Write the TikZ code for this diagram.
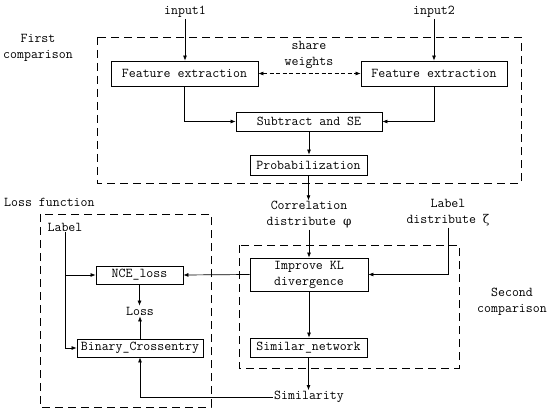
\documentclass[tikz,border=0pt]{standalone}
\usepackage{fontspec}
\newfontfamily\grk{DejaVu Serif}
\usetikzlibrary{arrows.meta}
\begin{document}
\begin{tikzpicture}[x=1pt,y=-1pt,
  every node/.style={font=\fontsize{13.5}{16}\selectfont\ttfamily},
  box/.style={draw,line width=0.8pt,inner sep=0pt,align=center},
  txt/.style={inner sep=1pt,align=center},
  arr/.style={-{Latex[length=5pt,width=4pt]},line width=0.7pt},
  group/.style={draw,line width=0.8pt,dash pattern=on 8pt off 5pt}]
\useasboundingbox (0,0) rectangle (550,412);
% groups
\draw[group] (97,37) rectangle (521,183);
\draw[group] (239,245) rectangle (459,368);
\draw[group] (40,214) rectangle (211,407);
% labels of groups
\node[txt] (firstc) at (38,48) {First\\comparison};
\node[txt] (secondc) at (512,302) {Second\\comparison};
\node[txt,anchor=west] (lossf) at (3,202) {Loss function};
% nodes
\node[txt] (in1) at (185,12) {input1};
\node[txt] (in2) at (434,12) {input2};
\node[box,minimum width=147pt,minimum height=25pt] (fe1) at (184.5,73.5) {Feature extraction};
\node[box,minimum width=146pt,minimum height=25pt] (fe2) at (434,73.5) {Feature extraction};
\node[txt] (share) at (309,55) {share\\weights};
\node[box,minimum width=146pt,minimum height=19pt] (sub) at (309,121.5) {Subtract and SE};
\node[box,minimum width=117pt,minimum height=20pt] (prob) at (308.5,165) {Probabilization};
\node[txt] (corr) at (309,215) {Correlation\\distribute {\grk\fontsize{12}{16}\selectfont φ}};
\node[txt] (ld) at (448,213) {Label\\distribute {\grk\fontsize{12}{16}\selectfont ζ}};
\node[box,minimum width=118pt,minimum height=33pt] (kl) at (309,274.5) {Improve KL\\divergence};
\node[box,minimum width=117pt,minimum height=19pt] (sim) at (308.5,347.5) {Similar\_network};
\node[txt] (simy) at (309,397) {Similarity};
\node[box,minimum width=87pt,minimum height=18pt] (nce) at (139.5,275) {NCE\_loss};
\node[box,minimum width=126pt,minimum height=18pt] (bin) at (140,348) {Binary\_Crossentry};
\node[txt] (loss) at (140,311) {Loss};
\node[txt] (lab) at (65,227) {Label};
% connectors
\draw[arr] (in1) -- (fe1.north -| in1);
\draw[arr] (in2) -- (fe2.north -| in2);
\draw[arr,{Latex[length=5pt,width=4pt]}-{Latex[length=5pt,width=4pt]},dash pattern=on 4pt off 2.5pt] (fe1.east) -- (fe2.west);
\draw[arr] (fe1.south) |- (sub.west);
\draw[arr] (fe2.south) |- (sub.east);
\draw[arr] (sub.south) -- (sub.south |- prob.north);
\draw[arr] (prob.south) -- (corr.north -| prob.south);
\draw[arr] (corr.south) -- (kl.north);
\draw[arr] (ld.south) |- (kl.east);
\draw[arr] (kl.west) -- (nce.east);
\draw[arr] (kl.south) -- (kl.south |- sim.north);
\draw[arr] (sim.south) -- (simy.north -| sim.south);
\draw[arr] (simy.west) -| (bin.south);
\draw[arr] (lab.south) |- (bin.west);
\draw[arr] (lab.south |- nce.west) -- (nce.west);
\draw[arr] (nce.south) -- (loss.north -| nce.south);
\draw[arr] (bin.north) -- (loss.south -| bin.north);
\end{tikzpicture}
\end{document}
